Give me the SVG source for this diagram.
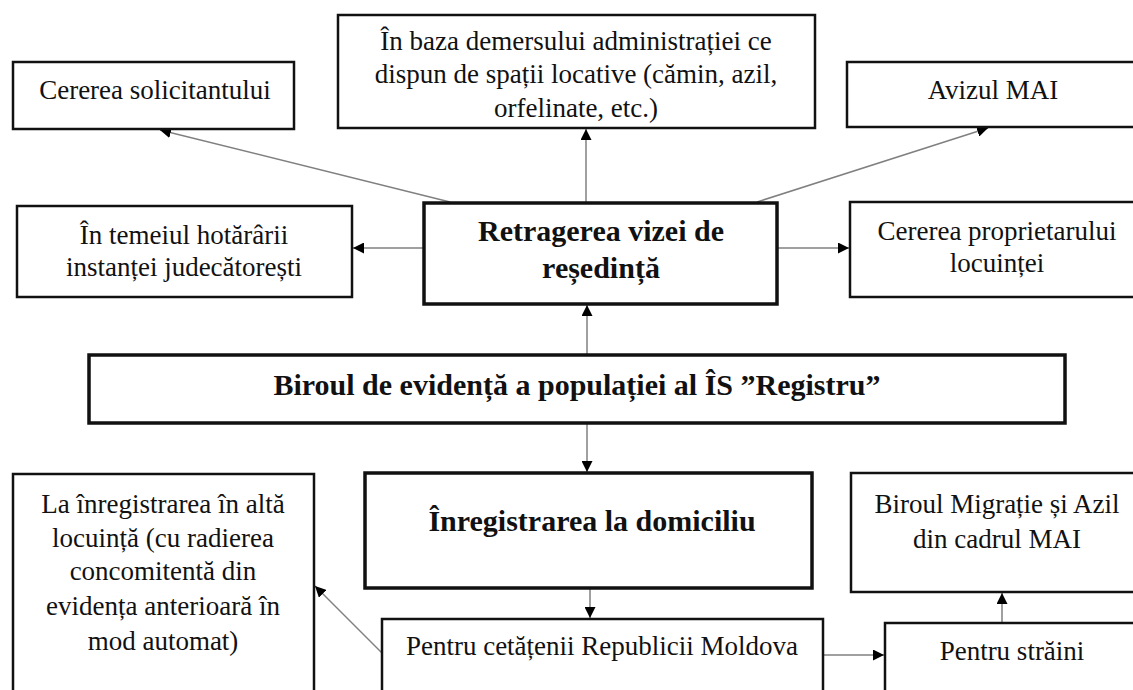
<svg xmlns="http://www.w3.org/2000/svg" width="1133" height="690" viewBox="0 0 1133 690">
<style>
.bx{fill:#fff;stroke:#111;stroke-width:2.5}
.bk{fill:#fff;stroke:#111;stroke-width:3.5}
.t{font-family:"Liberation Serif","Times New Roman",serif;font-size:27px;fill:#111;text-anchor:middle}
.b{font-family:"Liberation Serif","Times New Roman",serif;font-weight:bold;fill:#111;text-anchor:middle}
.c{stroke:#808080;stroke-width:1.5;fill:none;marker-end:url(#ah)}
</style>
<defs>
<marker id="ah" markerUnits="userSpaceOnUse" markerWidth="12" markerHeight="11" refX="11" refY="5.5" orient="auto">
<path d="M0,0 L11,5.5 L0,11 z" fill="#000"/>
</marker>
</defs>
<rect width="1133" height="690" fill="#fff"/>
<g id="connectors">
<line class="c" x1="450" y1="202" x2="160" y2="130"/>
<line class="c" x1="586" y1="202" x2="586" y2="129"/>
<line class="c" x1="757" y1="202" x2="988" y2="128"/>
<line class="c" x1="424" y1="248" x2="353" y2="248"/>
<line class="c" x1="777" y1="248" x2="849" y2="248"/>
<line class="c" x1="587" y1="355" x2="587" y2="305"/>
<line class="c" x1="587" y1="423" x2="587" y2="472"/>
<line class="c" x1="590" y1="588" x2="590" y2="618"/>
<line class="c" x1="382" y1="653" x2="315" y2="586"/>
<line class="c" x1="823" y1="655" x2="884" y2="655"/>
<line class="c" x1="1002" y1="623" x2="1002" y2="593"/>
</g>
<g id="n-cererea-solicitantului">
<rect class="bx" x="13" y="62" width="281" height="67"/>
<text class="t" x="155" y="99">Cererea solicitantului</text>
</g>
<g id="n-demers">
<rect class="bx" x="338" y="15" width="477" height="113"/>
<text class="t" x="576" y="50">În baza demersului administrației ce</text>
<text class="t" x="576" y="83">dispun de spații locative (cămin, azil,</text>
<text class="t" x="576" y="117">orfelinate, etc.)</text>
</g>
<g id="n-avizul">
<rect class="bx" x="847" y="62" width="295" height="65"/>
<text class="t" x="993" y="99">Avizul MAI</text>
</g>
<g id="n-temeiul">
<rect class="bx" x="17" y="206" width="335" height="91"/>
<text class="t" x="184" y="244">În temeiul hotărârii</text>
<text class="t" x="184" y="276">instanței judecătorești</text>
</g>
<g id="n-retragerea">
<rect class="bk" x="424" y="203" width="353" height="101"/>
<text class="b" x="601" y="241" font-size="30">Retragerea vizei de</text>
<text class="b" x="601" y="278" font-size="30">reședință</text>
</g>
<g id="n-proprietar">
<rect class="bx" x="850" y="202" width="295" height="95"/>
<text class="t" x="997" y="240">Cererea proprietarului</text>
<text class="t" x="997" y="272">locuinței</text>
</g>
<g id="n-biroul">
<rect class="bk" x="89" y="355" width="976" height="68"/>
<text class="b" x="577" y="395" font-size="30">Biroul de evidență a populației al ÎS ”Registru”</text>
</g>
<g id="n-inregistrarea">
<rect class="bk" x="365" y="473" width="447" height="115"/>
<text class="b" x="592" y="531" font-size="30">Înregistrarea la domiciliu</text>
</g>
<g id="n-alta-locuinta">
<rect class="bx" x="13" y="474" width="301" height="240"/>
<text class="t" x="163" y="513">La înregistrarea în altă</text>
<text class="t" x="163" y="547">locuință (cu radierea</text>
<text class="t" x="163" y="580">concomitentă din</text>
<text class="t" x="163" y="615">evidența anterioară în</text>
<text class="t" x="163" y="650">mod automat)</text>
</g>
<g id="n-migratie">
<rect class="bx" x="851" y="473" width="295" height="119"/>
<text class="t" x="997" y="513">Biroul Migrație și Azil</text>
<text class="t" x="997" y="548">din cadrul MAI</text>
</g>
<g id="n-cetateni">
<rect class="bx" x="382" y="619" width="441" height="100"/>
<text class="t" x="602" y="655">Pentru cetățenii Republicii Moldova</text>
</g>
<g id="n-straini">
<rect class="bx" x="885" y="623" width="260" height="100"/>
<text class="t" x="1012" y="660">Pentru străini</text>
</g>
</svg>
